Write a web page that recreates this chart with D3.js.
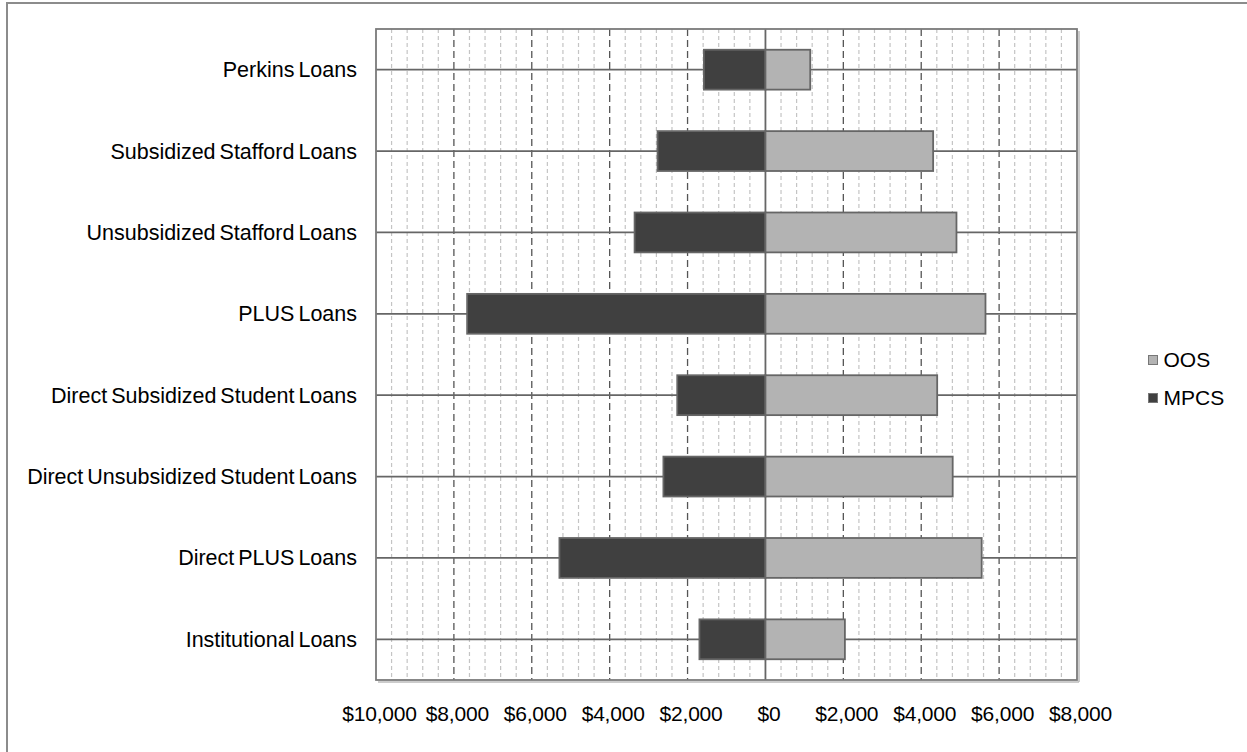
<!DOCTYPE html>
<html><head><meta charset="utf-8">
<script src="https://cdn.jsdelivr.net/npm/d3@7"></script>
<style>body{margin:0;background:#fff}svg{display:block;font-family:"Liberation Sans",Arial,sans-serif}</style>
</head><body>
<svg id="c" width="1247" height="752"></svg>
<script>
const categories = ["Perkins Loans","Subsidized Stafford Loans","Unsubsidized Stafford Loans","PLUS Loans","Direct Subsidized Student Loans","Direct Unsubsidized Student Loans","Direct PLUS Loans","Institutional Loans"];
const mpcs = [1580, 2770, 3360, 7660, 2265, 2620, 5290, 1695];
const oos = [1150, 4306, 4905, 5650, 4410, 4808, 5552, 2040];
const tickValues = [-10000,-8000,-6000,-4000,-2000,0,2000,4000,6000,8000];
const seriesNames = ["OOS","MPCS"];
const colors = {OOS:"#b3b3b3", MPCS:"#404040"};

const svg = d3.select("#c");
const L=376,R=1077,T=29,B=680;
const x = d3.scaleLinear().domain([-10000,8000]).range([L,R]);
const y = d3.scaleBand().domain(categories).range([T,B]).paddingInner(0).paddingOuter(0);

// outer border
svg.append("rect").attr("x",7).attr("y",3).attr("width",1260).attr("height",800)
  .attr("fill","none").attr("stroke","#8c8c8c").attr("stroke-width",2);

const g = svg.append("g");
// minor gridlines
const minor = d3.range(-10000,8001,400).filter(v=>v%2000!==0);
g.selectAll("line.minor").data(minor).join("line")
  .attr("x1",d=>x(d)).attr("x2",d=>x(d)).attr("y1",T).attr("y2",B)
  .attr("stroke","#c4c4c4").attr("stroke-width",1.2).attr("stroke-dasharray","4,3");
// major gridlines
g.selectAll("line.major").data(tickValues.filter(v=>v!==0&&v!==-10000&&v!==8000)).join("line")
  .attr("x1",d=>x(d)).attr("x2",d=>x(d)).attr("y1",T).attr("y2",B)
  .attr("stroke","#555").attr("stroke-width",1.3).attr("stroke-dasharray","7,4");
// horizontal lines at category centers
g.selectAll("line.h").data(categories).join("line")
  .attr("x1",L).attr("x2",R).attr("y1",d=>y(d)+y.bandwidth()/2).attr("y2",d=>y(d)+y.bandwidth()/2)
  .attr("stroke","#666").attr("stroke-width",1.8);
// zero line
g.append("line").attr("x1",x(0)).attr("x2",x(0)).attr("y1",T).attr("y2",B)
  .attr("stroke","#666").attr("stroke-width",1.8);

const bh = y.bandwidth()*0.49;
// MPCS bars (negative side)
g.selectAll("rect.m").data(categories).join("rect")
  .attr("x",(d,i)=>x(-mpcs[i])).attr("width",(d,i)=>x(0)-x(-mpcs[i]))
  .attr("y",d=>y(d)+(y.bandwidth()-bh)/2).attr("height",bh)
  .attr("fill",colors.MPCS).attr("stroke","#666").attr("stroke-width",1.8);
// OOS bars
g.selectAll("rect.o").data(categories).join("rect")
  .attr("x",x(0)).attr("width",(d,i)=>x(oos[i])-x(0))
  .attr("y",d=>y(d)+(y.bandwidth()-bh)/2).attr("height",bh)
  .attr("fill",colors.OOS).attr("stroke","#666").attr("stroke-width",1.8);

// plot frame
svg.append("line").attr("x1",L+2).attr("x2",R+2).attr("y1",B+2).attr("y2",B+2).attr("stroke","#bbb").attr("stroke-width",1.5);
svg.append("line").attr("x1",R+2).attr("x2",R+2).attr("y1",T+2).attr("y2",B+2).attr("stroke","#bbb").attr("stroke-width",1.5);
svg.append("rect").attr("x",L).attr("y",T).attr("width",R-L).attr("height",B-T)
  .attr("fill","none").attr("stroke","#7a7a7a").attr("stroke-width",1.8);

// x axis labels
const xAxis = d3.axisBottom(x).tickValues(tickValues).tickSize(0).tickPadding(0)
  .tickFormat(v=>"$"+d3.format(",")(Math.abs(v)));
const ax = svg.append("g").attr("transform",`translate(3,${B+26})`).call(xAxis);
ax.select(".domain").remove();
ax.selectAll("text").attr("font-size",21).attr("fill","#000").attr("font-family","Liberation Sans, Arial").attr("letter-spacing","-0.2");

// y labels
const yAxis = d3.axisLeft(y).tickSize(0).tickPadding(0);
const ay = svg.append("g").attr("transform",`translate(${357},0)`).call(yAxis);
ay.select(".domain").remove();
ay.selectAll("text").attr("font-size",21.5).attr("fill","#000").attr("font-family","Liberation Sans, Arial").attr("word-spacing","-2").attr("dy","0.35em");

// legend
const lg = svg.append("g").attr("transform","translate(1148,0)");
seriesNames.forEach((s,i)=>{
  const cy = 360 + i*38;
  lg.append("rect").attr("x",0.5).attr("y",cy-4.5).attr("width",9).attr("height",9)
    .attr("fill",colors[s]).attr("stroke","#777").attr("stroke-width",1);
  lg.append("text").attr("x",15.5).attr("y",cy).attr("dy","0.35em").attr("font-size",21)
    .text(s);
});
</script>
</body></html>
